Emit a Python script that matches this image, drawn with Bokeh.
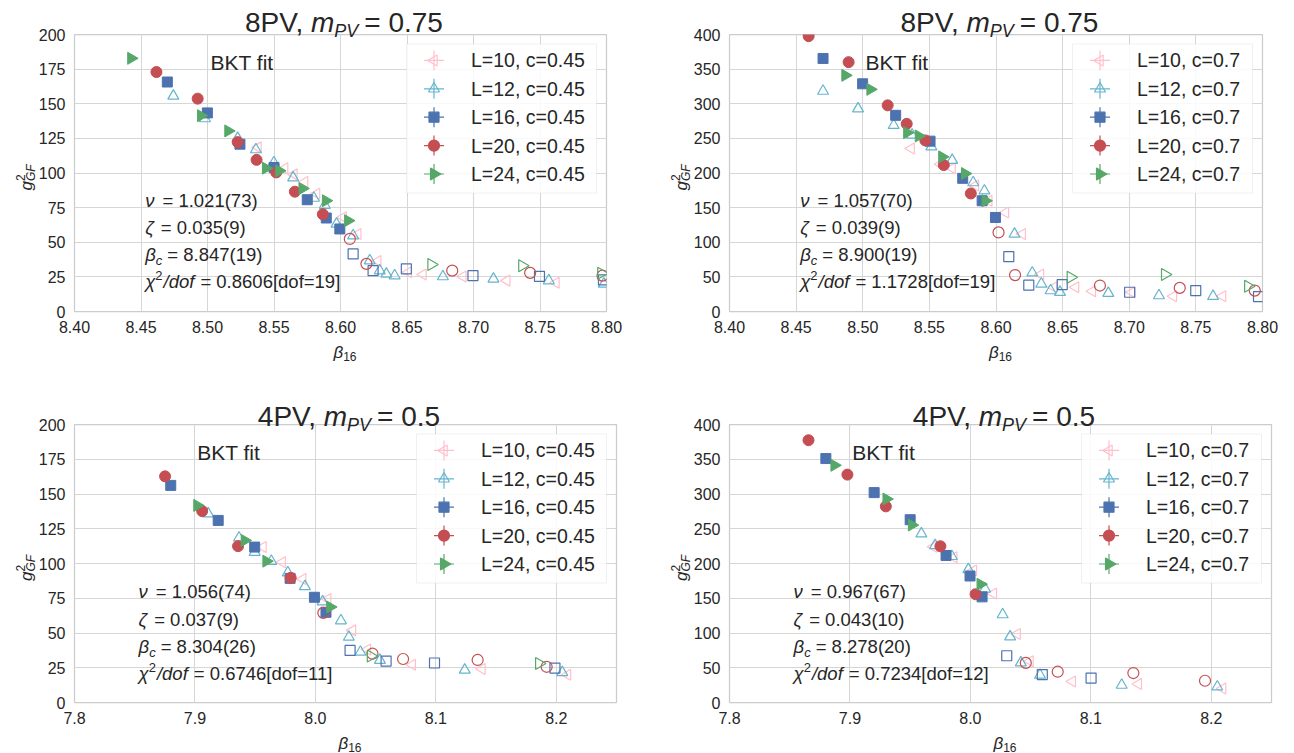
import math
from bokeh.plotting import figure
from bokeh.models import Label, BoxAnnotation, FixedTicker, PrintfTickFormatter, Range1d, Div
from bokeh.layouts import column, row
from bokeh.embed import file_html
from bokeh.resources import INLINE

# ---------------- data ----------------
# Panel 1: 8PV, m_PV = 0.75, c = 0.45
P1_L10_BETA = [8.538, 8.558, 8.565, 8.573, 8.582, 8.602, 8.613, 8.628, 8.651, 8.662, 8.692, 8.725, 8.762]
P1_L10_G2 = [118.5, 103.5, 99.0, 93.5, 85.0, 68.0, 56.0, 36.5, 28.3, 26.7, 25.2, 22.3, 20.7]
P1_L12_BETA = [8.4743, 8.4981, 8.5227, 8.5364, 8.5499, 8.5644, 8.580, 8.5882, 8.597, 8.6095, 8.622, 8.6295, 8.6345, 8.6407, 8.677, 8.715, 8.7566, 8.798]
P1_L12_G2 = [155.6, 139.3, 125.1, 116.9, 107.5, 96.6, 81.9, 76.8, 63.2, 54.8, 36.7, 29.5, 27.1, 25.9, 25.2, 23.5, 22.3, 19.9]
P1_L16_BETA = [8.4698, 8.4999, 8.5244, 8.5500, 8.5750, 8.5893, 8.5995, 8.6095, 8.6245, 8.6495, 8.6996, 8.7496, 8.7977]
P1_L16_G2 = [165.7, 143.4, 120.8, 104.0, 80.7, 67.5, 59.6, 41.6, 29.5, 30.8, 25.9, 25.4, 22.8]
P1_L16_FIT = [1, 1, 1, 1, 1, 1, 1, 0, 0, 0, 0, 0, 0]
P1_L20_BETA = [8.4616, 8.4926, 8.5227, 8.5369, 8.5517, 8.5657, 8.5867, 8.607, 8.6195, 8.684, 8.7426, 8.797]
P1_L20_G2 = [172.9, 153.7, 122.3, 109.5, 100.4, 86.5, 70.2, 52.4, 34.4, 29.5, 27.9, 25.9]
P1_L20_FIT = [1, 1, 1, 1, 1, 1, 1, 0, 0, 0, 0, 0]
P1_L24_BETA = [8.4426, 8.4951, 8.5156, 8.5439, 8.5539, 8.5714, 8.589, 8.6057, 8.6683, 8.7366, 8.796]
P1_L24_G2 = [182.8, 141.4, 130.4, 103.5, 101.6, 88.8, 80.0, 65.6, 34.0, 33.1, 27.6]
P1_L24_FIT = [1, 1, 1, 1, 1, 1, 1, 1, 0, 0, 0]

# Panel 2: 8PV, m_PV = 0.75, c = 0.7
P2_L10_BETA = [8.5363, 8.5583, 8.5671, 8.5846, 8.5946, 8.6071, 8.6197, 8.6334, 8.6434, 8.6597, 8.6723, 8.702, 8.7331, 8.770]
P2_L10_G2 = [235.5, 212.5, 207.0, 182.0, 159.9, 143.0, 111.9, 53.3, 35.0, 35.0, 29.2, 27.8, 22.0, 22.0]
P2_L12_BETA = [8.4702, 8.4965, 8.5232, 8.537, 8.5515, 8.5671, 8.5829, 8.5913, 8.6139, 8.6272, 8.634, 8.641, 8.648, 8.6843, 8.7223, 8.7629]
P2_L12_G2 = [318.3, 292.8, 268.9, 255.0, 238.0, 218.5, 186.2, 174.3, 111.9, 55.9, 39.9, 30.2, 27.8, 26.4, 23.0, 22.0]
P2_L16_BETA = [8.4702, 8.4999, 8.5247, 8.5505, 8.575, 8.5896, 8.5996, 8.6096, 8.6246, 8.6497, 8.7003, 8.7499, 8.797]
P2_L16_G2 = [365.4, 328.8, 283.3, 246.0, 192.3, 159.9, 135.8, 79.2, 38.0, 38.9, 27.8, 30.2, 21.6]
P2_L16_FIT = [1, 1, 1, 1, 1, 1, 1, 0, 0, 0, 0, 0, 0]
P2_L20_BETA = [8.4594, 8.4894, 8.5187, 8.533, 8.547, 8.5608, 8.5811, 8.6019, 8.6143, 8.678, 8.7379, 8.7942]
P2_L20_G2 = [397.6, 360.1, 297.7, 271.0, 247.0, 211.5, 170.4, 114.2, 52.6, 37.5, 34.1, 30.2]
P2_L20_FIT = [1, 1, 1, 1, 1, 1, 1, 0, 0, 0, 0, 0]
P2_L24_BETA = [8.4869, 8.5057, 8.5333, 8.542, 8.5596, 8.5767, 8.5921, 8.656, 8.7268, 8.7892]
P2_L24_G2 = [341.0, 320.8, 258.3, 253.5, 223.3, 199.2, 159.9, 49.4, 53.3, 36.4]
P2_L24_FIT = [1, 1, 1, 1, 1, 1, 1, 0, 0, 0]

# Panel 3: 4PV, m_PV = 0.5, c = 0.45
P3_L10_BETA = [7.9565, 7.9725, 7.9895, 8.0102, 8.0308, 8.0432, 8.0804, 8.1383, 8.2093]
P3_L10_G2 = [111.8, 100.9, 88.8, 74.5, 51.9, 38.1, 27.1, 24.1, 20.0]
P3_L12_BETA = [7.911, 7.9366, 7.9496, 7.9634, 7.9771, 7.9913, 8.006, 8.0212, 8.0278, 8.0374, 8.0536, 8.124, 8.205]
P3_L12_G2 = [135.8, 118.5, 108.2, 101.7, 93.4, 83.5, 72.5, 58.9, 47.1, 36.3, 30.4, 23.4, 21.6]
P3_L16_BETA = [7.8799, 7.9193, 7.9496, 7.979, 7.9992, 8.0088, 8.0288, 8.0587, 8.0989, 8.1989]
P3_L16_G2 = [156.2, 131.0, 111.8, 89.3, 75.7, 64.9, 37.5, 29.8, 28.4, 24.8]
P3_L16_FIT = [1, 1, 1, 1, 1, 1, 0, 0, 0, 0]
P3_L20_BETA = [7.8752, 7.906, 7.9358, 7.9795, 8.0066, 8.0474, 8.0728, 8.1347, 8.192]
P3_L20_G2 = [162.7, 137.7, 112.5, 89.7, 64.5, 35.1, 31.3, 30.6, 25.7]
P3_L20_FIT = [1, 1, 1, 1, 0, 0, 0, 0, 0]
P3_L24_BETA = [7.9019, 7.9413, 7.9593, 8.0123, 8.046, 8.1857]
P3_L24_G2 = [141.8, 116.6, 101.7, 68.7, 33.5, 28.1]
P3_L24_FIT = [1, 1, 1, 1, 0, 0]

# Panel 4: 4PV, m_PV = 0.5, c = 0.7
P4_L10_BETA = [7.9693, 7.9862, 8.0025, 8.0191, 8.0388, 8.0495, 8.0846, 8.1394, 8.2094]
P4_L10_G2 = [224.0, 209.0, 189.9, 156.8, 98.6, 59.4, 30.3, 26.5, 20.2]
P4_L12_BETA = [7.9593, 7.9707, 7.9846, 7.9983, 8.0122, 8.0268, 8.033, 8.0419, 8.0578, 8.1256, 8.205]
P4_L12_G2 = [242.8, 226.0, 210.3, 191.4, 163.5, 126.5, 94.7, 57.2, 39.5, 25.1, 22.6]
P4_L16_BETA = [7.88, 7.9201, 7.95, 7.9798, 7.9997, 8.0097, 8.0302, 8.0597, 8.1002]
P4_L16_G2 = [351.0, 302.0, 263.0, 211.5, 182.0, 152.0, 67.3, 40.2, 35.2]
P4_L16_FIT = [1, 1, 1, 1, 1, 1, 0, 0, 0]
P4_L20_BETA = [7.8656, 7.8979, 7.9298, 7.9751, 8.0043, 8.046, 8.0725, 8.1353, 8.1948]
P4_L20_G2 = [377.4, 327.9, 282.2, 224.8, 155.8, 57.0, 44.3, 42.4, 31.3]
P4_L20_FIT = [1, 1, 1, 1, 1, 0, 0, 0, 0]
P4_L24_BETA = [7.8871, 7.9303, 7.9514, 8.0084]
P4_L24_G2 = [341.3, 292.8, 255.3, 170.2]
P4_L24_FIT = [1, 1, 1, 1]

SIZES_L = [10, 12, 16, 20, 24]
TITLE_HEAD = ["8PV, ", "8PV, ", "4PV, ", "4PV, "]
TITLE_MPV = ["0.75", "0.75", "0.5", "0.5"]
C_VALUES = ["0.45", "0.7", "0.45", "0.7"]
NU = ["1.021(73)", "1.057(70)", "1.056(74)", "0.967(67)"]
ZETA = ["0.035(9)", "0.039(9)", "0.037(9)", "0.043(10)"]
BETA_C = ["8.847(19)", "8.900(19)", "8.304(26)", "8.278(20)"]
CHI2 = ["0.8606[dof=19]", "1.1728[dof=19]", "0.6746[dof=11]", "0.7234[dof=12]"]

X_TICKS_TOP = [8.40, 8.45, 8.50, 8.55, 8.60, 8.65, 8.70, 8.75, 8.80]
X_TICKS_BOTTOM = [7.8, 7.9, 8.0, 8.1, 8.2]
Y_TICKS_200 = [0, 25, 50, 75, 100, 125, 150, 175, 200]
Y_TICKS_400 = [0, 50, 100, 150, 200, 250, 300, 350, 400]

PANEL_DATA = [
    {10: (P1_L10_BETA, P1_L10_G2, None), 12: (P1_L12_BETA, P1_L12_G2, None),
     16: (P1_L16_BETA, P1_L16_G2, P1_L16_FIT), 20: (P1_L20_BETA, P1_L20_G2, P1_L20_FIT),
     24: (P1_L24_BETA, P1_L24_G2, P1_L24_FIT)},
    {10: (P2_L10_BETA, P2_L10_G2, None), 12: (P2_L12_BETA, P2_L12_G2, None),
     16: (P2_L16_BETA, P2_L16_G2, P2_L16_FIT), 20: (P2_L20_BETA, P2_L20_G2, P2_L20_FIT),
     24: (P2_L24_BETA, P2_L24_G2, P2_L24_FIT)},
    {10: (P3_L10_BETA, P3_L10_G2, None), 12: (P3_L12_BETA, P3_L12_G2, None),
     16: (P3_L16_BETA, P3_L16_G2, P3_L16_FIT), 20: (P3_L20_BETA, P3_L20_G2, P3_L20_FIT),
     24: (P3_L24_BETA, P3_L24_G2, P3_L24_FIT)},
    {10: (P4_L10_BETA, P4_L10_G2, None), 12: (P4_L12_BETA, P4_L12_G2, None),
     16: (P4_L16_BETA, P4_L16_G2, P4_L16_FIT), 20: (P4_L20_BETA, P4_L20_G2, P4_L20_FIT),
     24: (P4_L24_BETA, P4_L24_G2, P4_L24_FIT)},
]

# ---------------- style ----------------
FONT = "Liberation Sans"
GREEK = "DejaVu Sans"
TXT = "#262626"
GRID = "#d6d6d6"
EDGE = "#cccccc"
COLORS = {10: "#FFC0CB", 12: "#64B5CD", 16: "#4C72B0", 20: "#C44E52", 24: "#55A868"}
MARKER = {10: ("triangle", math.pi / 2, 11), 12: ("triangle", 0.0, 11),
          16: ("square", 0.0, 10), 20: ("circle", 0.0, 11), 24: ("triangle", -math.pi / 2, 12)}

# geometry: (border_left, frame_w, border_right, border_top, frame_h, border_bottom)
GEOM = [
    (74, 532, 44, 34, 277, 64),
    (79, 533, 30, 34, 277, 64),
    (74, 542, 34, 49, 278, 49),
    (79, 542, 21, 49, 278, 49),
]
ORIGIN = [(0, 0), (650, 0), (0, 375), (650, 375)]
XR = [(8.40, 8.80), (8.40, 8.80), (7.8, 8.25), (7.8, 8.25)]
YR = [(0, 200), (0, 400), (0, 200), (0, 400)]
LEG_W = [190, 180, 190, 180]

svg_parts = []


def make_panel(i):
    bl, fw, br, bt, fh, bb = GEOM[i]
    ox, oy = ORIGIN[i]
    fl, ft = ox + bl, oy + bt  # frame left/top in page coords
    fb = ft + fh
    xa, xb_ = XR[i]
    ya, yb_ = YR[i]
    top = i < 2
    p = figure(frame_width=fw, frame_height=fh,
               min_border_left=bl, min_border_right=br, min_border_top=bt, min_border_bottom=bb,
               x_range=Range1d(xa, xb_), y_range=Range1d(ya, yb_),
               output_backend="svg", toolbar_location=None, tools="",
               background_fill_color="white", border_fill_color="white")
    p.outline_line_color = EDGE
    p.outline_line_width = 1.25
    p.grid.grid_line_color = GRID
    p.grid.grid_line_width = 1
    p.xaxis.ticker = FixedTicker(ticks=X_TICKS_TOP if top else X_TICKS_BOTTOM)
    p.xaxis.formatter = PrintfTickFormatter(format="%.2f" if top else "%.1f")
    p.yaxis.ticker = FixedTicker(ticks=Y_TICKS_200 if yb_ == 200 else Y_TICKS_400)
    p.yaxis.formatter = PrintfTickFormatter(format="%d")
    for ax in (p.xaxis[0], p.yaxis[0]):
        ax.axis_line_color = None
        ax.major_tick_line_color = None
        ax.minor_tick_line_color = None
        ax.major_tick_out = 0
        ax.major_tick_in = 0
        ax.major_label_text_font = FONT
        ax.major_label_text_font_size = "16px"
        ax.major_label_text_color = TXT
    p.xaxis.major_label_standoff = 9
    p.yaxis.major_label_standoff = 9

    def label(xp, yp, s, size, align="left", baseline="alphabetic"):
        p.add_layout(Label(x=xp - fl, y=fh - (yp - ft), x_units="screen", y_units="screen",
                           text=s, text_font=FONT, text_font_size=f"{size}px",
                           text_color=TXT, text_align=align, text_baseline=baseline))

    def to_data(sx, sy):
        return xa + sx / fw * (xb_ - xa), yb_ - sy / fh * (yb_ - ya)

    # data
    for L in SIZES_L:
        bx, gy, fit = PANEL_DATA[i][L]
        mk, ang, sz = MARKER[L]
        col = COLORS[L]
        if fit is None:
            fit = [0] * len(bx)
        xin = [b for b, f in zip(bx, fit) if f]
        yin = [g for g, f in zip(gy, fit) if f]
        xout = [b for b, f in zip(bx, fit) if not f]
        yout = [g for g, f in zip(gy, fit) if not f]
        p.scatter(xout, yout, marker=mk, angle=ang, size=sz, fill_color=None,
                  line_color=col, line_width=1.2)
        p.scatter(xin, yin, marker=mk, angle=ang, size=sz, fill_color=col,
                  line_color=col, line_width=1)

    # legend (custom, to keep left/right pointing triangles and error-bar crosses)
    lw = LEG_W[i]
    lr = fw - 10
    ll = lr - lw
    lt = 9.5
    lbh = 149
    p.add_layout(BoxAnnotation(left=ll, right=lr, top=fh - lt, bottom=fh - lt - lbh,
                               left_units="screen", right_units="screen",
                               top_units="screen", bottom_units="screen",
                               fill_color="white", fill_alpha=0.85,
                               line_color=EDGE, line_width=1, level="underlay"))
    for k, L in enumerate(SIZES_L):
        mk, ang, sz = MARKER[L]
        col = COLORS[L]
        rowy = lt + 16.4 + 28.4 * k
        mx, my = to_data(ll + 27.5, rowy)
        hx0, _ = to_data(ll + 27.5 - 10, rowy)
        hx1, _ = to_data(ll + 27.5 + 10, rowy)
        _, vy0 = to_data(ll + 27.5, rowy - 10)
        _, vy1 = to_data(ll + 27.5, rowy + 10)
        p.segment(x0=[hx0, mx], y0=[my, vy0], x1=[hx1, mx], y1=[my, vy1], line_color=col, line_width=1.2)
        filled = L >= 16
        p.scatter([mx], [my], marker=mk, angle=ang, size=sz,
                  fill_color=col if filled else None, line_color=col, line_width=1.2)
        label(fl + ll + 64.5, ft + rowy, f"L={L}, c={C_VALUES[i]}", 19.5, baseline="middle")

    # BKT fit
    if top:
        label(fl + 167.5, ft + 27.7, "BKT fit", 21, align="center")
    else:
        label(fl + 154.2, ft + 28.4, "BKT fit", 21, align="center")

    # ---- mixed-style texts (math), as SVG text in an overlay ----
    S = []
    tb = ft - (6.7 if top else 2.6)
    S.append(f'<text x="{fl + fw / 2 - 1:.1f}" y="{tb:.1f}" text-anchor="middle" font-size="28">'
             f'{TITLE_HEAD[i]}<tspan font-style="italic">m</tspan>'
             f'<tspan font-style="italic" font-size="18" dy="4.4">PV</tspan>'
             f'<tspan dy="-4.4" dx="6">= {TITLE_MPV[i]}</tspan></text>')
    sx = fl + (66.2 if top else 59.6)
    sy = ft + (167.7 if top else 169.4)
    pitch = 27.2
    g = f'font-family="{GREEK}" font-style="italic"'
    S.append(f'<text x="{sx:.1f}" y="{sy:.1f}" font-size="18.5"><tspan {g}>ν</tspan>'
             f'<tspan dx="8">= {NU[i]}</tspan></text>')
    S.append(f'<text x="{sx:.1f}" y="{sy + pitch:.1f}" font-size="18.5"><tspan {g}>ζ</tspan>'
             f'<tspan dx="7">= {ZETA[i]}</tspan></text>')
    S.append(f'<text x="{sx:.1f}" y="{sy + 2 * pitch:.1f}" font-size="18.5"><tspan {g}>β</tspan>'
             f'<tspan font-style="italic" font-size="13" dy="4">c</tspan>'
             f'<tspan dy="-4" dx="5">= {BETA_C[i]}</tspan></text>')
    S.append(f'<text x="{sx:.1f}" y="{sy + 3 * pitch:.1f}" font-size="18.5"><tspan {g}>χ</tspan>'
             f'<tspan font-size="13" dy="-8">2</tspan>'
             f'<tspan font-style="italic" dy="8" dx="1">/dof</tspan>'
             f'<tspan dx="6">= {CHI2[i]}</tspan></text>')
    # x label
    S.append(f'<text x="{fl + fw / 2:.1f}" y="{fb + 42:.1f}" text-anchor="middle" font-size="17">'
             f'<tspan {g}>β</tspan><tspan font-size="12" dy="3">16</tspan></text>')
    # y label
    bx0 = fl - 47
    by0 = ft + fh / 2 + 13
    S.append(f'<text transform="translate({bx0:.1f},{by0:.1f}) rotate(-90)" font-size="17">'
             f'<tspan font-style="italic">g</tspan>'
             f'<tspan font-size="12" dy="-7">2</tspan>'
             f'<tspan font-size="12" font-style="italic" dx="-6.7" dy="10">GF</tspan></text>')
    svg_parts.extend(S)
    return p


panels = [make_panel(i) for i in range(4)]
svg = ('<svg xmlns="http://www.w3.org/2000/svg" width="1294" height="753" '
       f'style="position:absolute;left:0;top:0" font-family="{FONT}" fill="{TXT}">'
       + "".join(svg_parts) + '</svg>')
overlay = Div(text=svg, width=1294, height=753,
              styles={"position": "absolute", "left": "0px", "top": "0px",
                      "pointer-events": "none", "z-index": "5"})
layout = column(row(panels[0], panels[1]), row(panels[2], panels[3]), overlay)
open("out.html", "w", encoding="utf-8").write(file_html(layout, INLINE))
